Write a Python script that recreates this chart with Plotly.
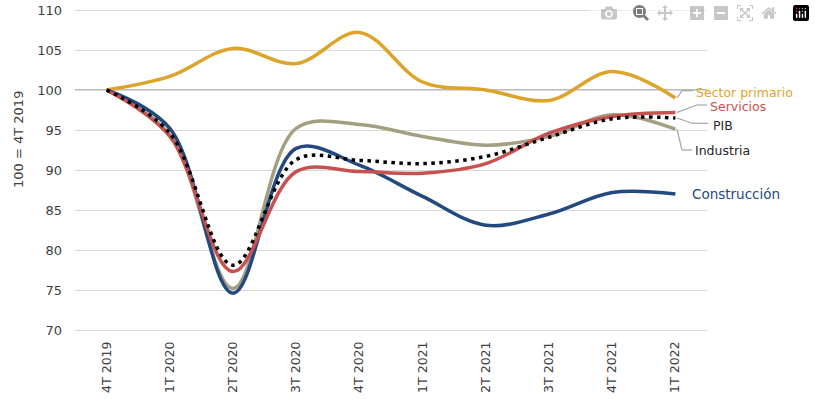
import plotly.graph_objects as go

quarters = ["4T 2019", "1T 2020", "2T 2020", "3T 2020", "4T 2020",
            "1T 2021", "2T 2021", "3T 2021", "4T 2021", "1T 2022"]

sector_primario = [100.0, 101.7, 105.2, 103.3, 107.2, 101.0, 100.0, 98.7, 102.3, 99.0]
industria       = [100.0, 94.4, 75.2, 95.2, 95.7, 94.2, 93.1, 94.2, 96.9, 95.1]
construccion    = [100.0, 95.2, 74.6, 92.7, 90.6, 86.7, 83.1, 84.5, 87.2, 87.0]
servicios       = [100.0, 94.2, 77.3, 89.8, 89.8, 89.6, 90.8, 94.6, 96.7, 97.2]
pib             = [100.0, 94.6, 78.1, 91.3, 91.2, 90.8, 91.7, 94.1, 96.4, 96.5]

y_ticks = [70, 75, 80, 85, 90, 95, 100, 105, 110]

FONT = "DejaVu Sans"
GOLD = "#DDA42B"
TAN = "#A59F82"
RED = "#C65150"
BLUE = "#224A80"
BLACK = "#000000"
TXT = "#404040"
LEADER = "#A6A6A6"

# page body margin is removed by post_script, so the figure fills the window
OFF = 0
W, H = 815 - OFF, 399 - OFF
PXU = 8.0          # pixels per unit on y
PAD = 0.25         # units of padding so edge gridlines are drawn
Y0, Y1 = 70 - PAD, 110 + PAD
# plot area in window pixels
PL, PR = 75, 707
PT, PB = 10 - PAD * PXU, 330 + PAD * PXU
ML, MR, MT, MB = PL - OFF, W - (PR - OFF), PT - OFF, H - (PB - OFF)
PW = PR - PL
PH = PB - PT

x_idx = list(range(len(quarters)))

fig = go.Figure()

def add(y, color, dash="solid", width=3.5):
    fig.add_trace(go.Scatter(
        x=x_idx, y=y, mode="lines",
        line=dict(color=color, width=width, shape="spline", smoothing=1.0, dash=dash),
        showlegend=False, hoverinfo="skip", cliponaxis=False))

add(sector_primario, GOLD)
add(industria, TAN)
add(construccion, BLUE)
add(servicios, RED)
add(pib, BLACK, dash="3.5px,4.5px", width=3.5)

# axis crossing line at 100
fig.add_shape(type="line", xref="paper", x0=0, x1=1, yref="y", y0=100, y1=100,
              line=dict(color="#A6A6A6", width=1.3), layer="below")

def px_x(px):
    return (px - PL) / PW

def px_y(py):
    return 1 - (py - PT) / PH

def px_to_val(py):
    return 110 - (py - 10) / PXU

end_px = 677  # window pixel x of last category

def leader(y_start, pts):
    fig.add_shape(type="line", xref="paper", yref="y",
                  x0=px_x(end_px), y0=y_start, x1=px_x(pts[0][0]),
                  y1=px_to_val(pts[0][1]),
                  line=dict(color=LEADER, width=1.2))
    for (a, b) in zip(pts[:-1], pts[1:]):
        fig.add_shape(type="line", xref="paper", yref="paper",
                      x0=px_x(a[0]), y0=px_y(a[1]), x1=px_x(b[0]), y1=px_y(b[1]),
                      line=dict(color=LEADER, width=1.2))

def label(text, px, py, color, size=12.5):
    fig.add_annotation(xref="paper", yref="paper", x=px_x(px), y=px_y(py), text=text,
                       showarrow=False, xanchor="left", yanchor="middle",
                       font=dict(family=FONT, size=size, color=color))

leader(sector_primario[-1], [(682, 90.7), (693, 90.7)])
label("Sector primario", 694, 92.0, GOLD)

leader(servicios[-1], [(697, 105), (707, 105)])
label("Servicios", 708, 106.0, RED)

leader(pib[-1], [(692, 123.3), (708, 123.3)])
label("PIB", 711, 125.7, "#262626")

leader(industria[-1], [(682, 150), (692, 150)])
label("Industria", 693, 150.7, "#262626")

label("Construcción", 690, 194, BLUE, 13.5)

# y-axis title
fig.add_annotation(xref="paper", yref="paper", x=px_x(18), y=px_y(140),
                   text="100 = 4T 2019", textangle=-90, showarrow=False,
                   xanchor="center", yanchor="middle",
                   font=dict(family=FONT, size=13, color=TXT))

fig.update_layout(
    width=W, height=H,
    margin=dict(l=ML, r=MR, t=MT, b=MB, autoexpand=False),
    paper_bgcolor="white", plot_bgcolor="white",
    font=dict(family=FONT, size=13, color=TXT),
    xaxis=dict(
        range=[-0.5, len(quarters) - 0.5], automargin=False,
        tickmode="array", tickvals=x_idx, ticktext=quarters,
        tickangle=-90, showgrid=False, zeroline=False, showline=False,
        ticks="", ticklabelstandoff=6, ticklabeloverflow="allow",
        tickfont=dict(family=FONT, size=12.5, color=TXT),
    ),
    yaxis=dict(
        range=[Y0, Y1], tickmode="array", tickvals=y_ticks, automargin=False,
        showgrid=True, gridcolor="#D9D9D9", gridwidth=1.3,
        zeroline=False, showline=False, ticks="",
        ticklabelstandoff=12, ticklabeloverflow="allow",
        tickfont=dict(family=FONT, size=13, color=TXT),
    ),
)

fig.write_html("out.html",
               post_script="document.body.style.margin='0px';document.body.style.overflow='hidden';")
